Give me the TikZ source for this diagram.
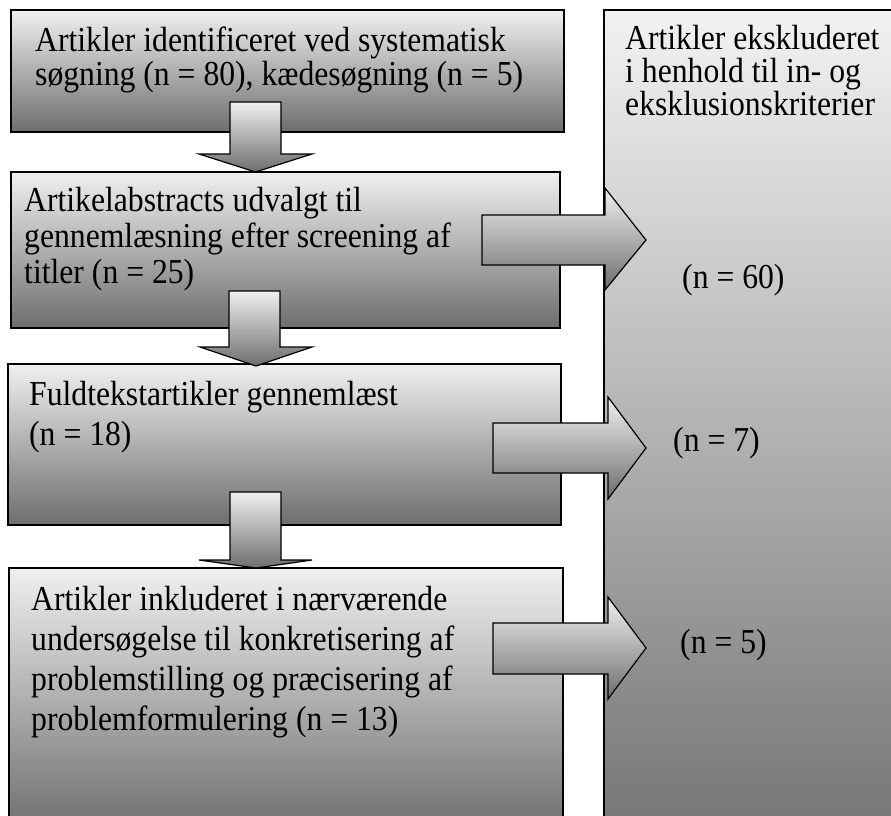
\documentclass[tikz,border=0pt]{standalone}
\usepackage{fontspec}
\setmainfont[FakeStretch=0.905]{Liberation Serif}
\definecolor{shtop}{gray}{0.94}
\definecolor{shbot}{gray}{0.43}
\definecolor{rtop}{gray}{0.95}
\definecolor{rbot}{gray}{0.47}
\definecolor{bfbot}{gray}{0.46}
\tikzset{
  boxshade/.style={draw=black, line width=1.2pt, top color=shtop, bottom color=shbot},
  arrowshade/.style={draw=black, line width=1.2pt, line join=miter, top color=shtop, bottom color=shbot},
  txt/.style={anchor=base west, inner sep=0pt, text height=22pt, text depth=7pt, font=\fontsize{35}{40}\selectfont}
}
\begin{document}
\begin{tikzpicture}[x=1pt,y=-1pt]
\useasboundingbox (0,0) rectangle (891,816);
\clip (0,0) rectangle (891,816);
\fill[white] (0,0) rectangle (891,816);
% right tall box
\shade[top color=rtop, bottom color=rbot] (604,10) rectangle (900,816);
\draw[line width=1.2pt] (604,830) -- (604,10) -- (900,10);
% left boxes
\path[boxshade] (11,10) rectangle (564,132);
\path[boxshade] (11,172) rectangle (560,328);
\path[boxshade] (8,364) rectangle (561,525);
\shade[top color=shtop, bottom color=bfbot] (9,568) rectangle (563,816);
\draw[line width=1.2pt] (9,830) -- (9,568) -- (563,568) -- (563,830);
% down arrows
\path[arrowshade] (230,102) -- (281,102) -- (281,154) -- (312,154) -- (255.5,172) -- (199,154) -- (230,154) -- cycle;
\path[arrowshade] (229,291) -- (280,291) -- (280,347) -- (312,347) -- (256,366) -- (200,347) -- (229,347) -- cycle;
\path[arrowshade] (230,492) -- (281,492) -- (281,560) -- (312,560) -- (256,568) -- (199,560) -- (230,560) -- cycle;
% right arrows
\path[arrowshade] (482,215) -- (605,215) -- (605,188) -- (646,240) -- (605,290) -- (605,265) -- (482,265) -- cycle;
\path[arrowshade] (493,423) -- (608,423) -- (608,397) -- (646,448) -- (608,499) -- (608,473) -- (493,473) -- cycle;
\path[arrowshade] (493,623) -- (608,623) -- (608,597) -- (646,648) -- (608,699) -- (608,674) -- (493,674) -- cycle;
% texts
\node[txt] (t1a) at (35,52) {Artikler identificeret ved systematisk};
\node[txt] (t1b) at (35,85) {søgning (n = 80), kædesøgning (n = 5)};
\node[txt] (t2a) at (24,211) {Artikelabstracts udvalgt til};
\node[txt] (t2b) at (24,247) {gennemlæsning efter screening af};
\node[txt] (t2c) at (24,283) {titler (n = 25)};
\node[txt] (t3a) at (29,405) {Fuldtekstartikler gennemlæst};
\node[txt] (t3b) at (29,445) {(n = 18)};
\node[txt] (t4a) at (31,610) {Artikler inkluderet i nærværende};
\node[txt] (t4b) at (31,650) {undersøgelse til konkretisering af};
\node[txt] (t4c) at (31,690) {problemstilling og præcisering af};
\node[txt] (t4d) at (31,730) {problemformulering (n = 13)};
\node[txt] (r1) at (625,49) {Artikler ekskluderet};
\node[txt] (r2) at (625,82) {i henhold til in- og};
\node[txt] (r3) at (625,115) {eksklusionskriterier};
\node[txt] (n60) at (682,288) {(n = 60)};
\node[txt] (n7) at (673,451) {(n = 7)};
\node[txt] (n5) at (680,653) {(n = 5)};
\end{tikzpicture}
\end{document}
